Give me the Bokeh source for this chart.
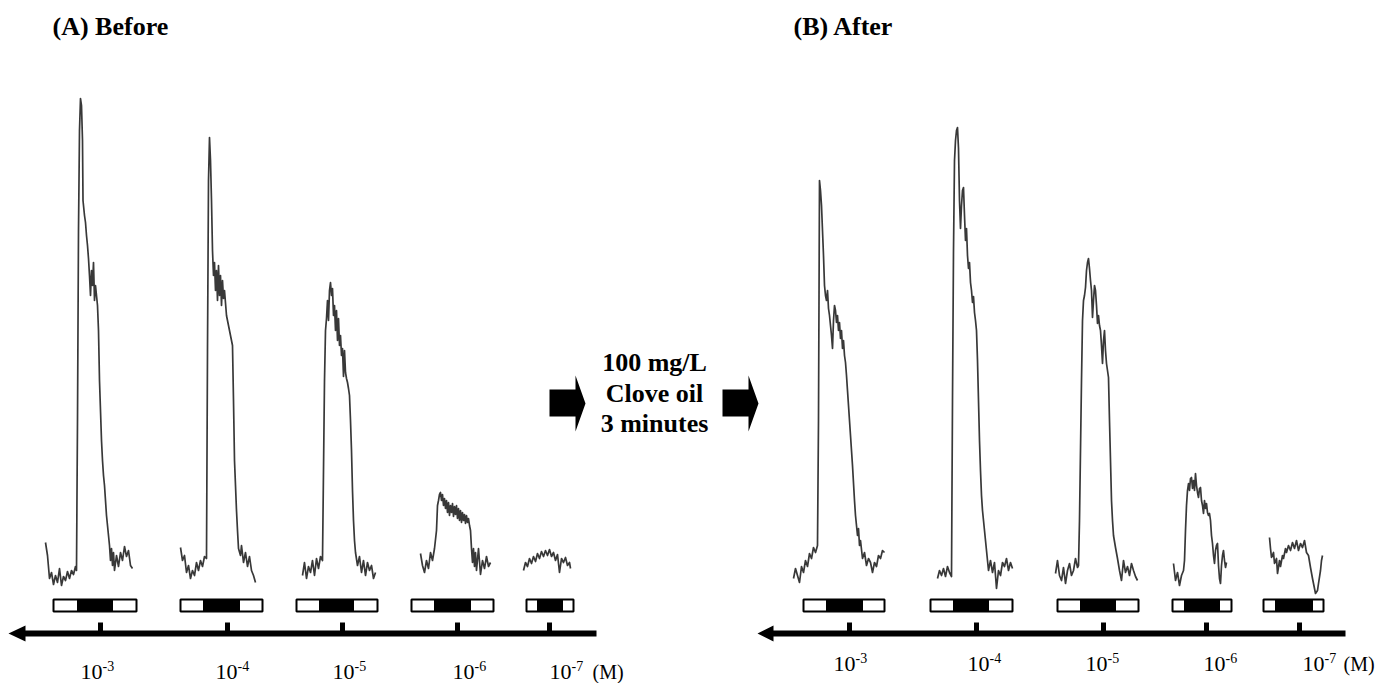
from bokeh.plotting import figure
from bokeh.models import Range1d
from bokeh.core.properties import value
from bokeh.embed import file_html
from bokeh.resources import INLINE

# ------------------------------------------------------------------
# DATA : recorded responses (time offset, response amplitude)
# ------------------------------------------------------------------
# Panel A (before clove oil)
A1_t = [0, 2, 4, 6, 8, 10, 12, 14, 16, 18, 20, 22, 24, 26, 28, 30, 31, 32, 33, 34, 35, 36, 37, 37.5, 38, 39, 40, 41, 42, 43, 44, 45, 46, 47, 48, 49, 50, 51, 52, 53, 54, 55, 56, 57, 58, 59, 60, 61, 62, 63, 64, 65, 66, 67, 68, 69, 71, 73, 75, 77, 79, 81, 83, 85, 87]
A1_r = [58, 45, 22, 28, 16, 25, 18, 32, 15, 24, 20, 29, 22, 30, 26, 34, 30, 180, 370, 470, 502, 495, 460, 400, 395, 385, 378, 365, 355, 342, 325, 305, 330, 315, 338, 300, 315, 305, 295, 270, 220, 190, 160, 140, 125, 115, 100, 85, 75, 65, 55, 40, 52, 35, 48, 30, 45, 34, 48, 40, 54, 44, 50, 35, 32]

A2_t = [0, 2, 4, 6, 8, 10, 12, 14, 16, 18, 20, 22, 24, 26, 27, 28, 29, 30, 31, 32, 33, 34, 35, 36, 37, 38, 39, 40, 41, 42, 43, 44, 46, 48, 50, 52, 53, 54, 55, 56, 57, 58, 60, 61, 63, 65, 67, 69, 71, 73, 75]
A2_r = [53, 40, 45, 28, 35, 22, 30, 25, 38, 30, 40, 34, 44, 42, 250, 420, 463, 440, 400, 350, 325, 338, 310, 330, 300, 335, 305, 325, 295, 320, 302, 310, 285, 275, 265, 255, 200, 140, 115, 90, 70, 52, 45, 55, 38, 48, 34, 44, 30, 25, 18]

A3_t = [0, 2, 4, 6, 8, 10, 12, 14, 16, 18, 20, 21, 22, 23, 24, 25, 26, 27, 28, 29, 30, 31, 32, 33, 34, 35, 36, 37, 38, 39, 40, 41, 42, 43, 44, 45, 46, 47, 48, 49, 50, 51, 52, 53, 55, 57, 59, 61, 63, 65, 67, 69, 71, 73]
A3_r = [25, 38, 22, 34, 28, 40, 25, 42, 32, 44, 40, 130, 220, 270, 282, 300, 280, 310, 318, 305, 312, 285, 295, 270, 290, 260, 282, 255, 265, 245, 252, 224, 250, 228, 222, 218, 212, 205, 180, 150, 110, 80, 60, 48, 35, 44, 28, 40, 25, 38, 30, 35, 22, 28]

A4_t = [0, 2, 4, 6, 8, 10, 12, 14, 16, 17, 18, 19, 20, 21, 22, 23, 24, 25, 26, 27, 28, 29, 30, 31, 32, 33, 34, 35, 36, 37, 38, 39, 40, 41, 42, 43, 44, 45, 46, 47, 48, 49, 50, 51, 52, 53, 54, 55, 56, 58, 60, 62, 64, 66, 68, 70]
A4_r = [47, 35, 28, 40, 32, 48, 40, 52, 70, 95, 100, 106, 108, 100, 106, 95, 102, 92, 100, 88, 98, 85, 95, 88, 97, 84, 94, 86, 95, 82, 92, 80, 90, 78, 88, 80, 86, 77, 85, 78, 82, 75, 70, 52, 38, 52, 34, 48, 30, 52, 26, 40, 32, 44, 34, 38]

A5_t = [0, 2, 4, 6, 8, 10, 12, 14, 16, 18, 20, 22, 24, 26, 28, 30, 32, 34, 36, 38, 40, 42, 44, 46, 47]
A5_r = [30, 38, 34, 42, 37, 44, 39, 47, 42, 49, 44, 50, 45, 51, 44, 48, 40, 46, 28, 42, 38, 43, 35, 38, 32]

# Panel B (after clove oil)
B1_t = [0, 2, 4, 6, 8, 10, 12, 14, 16, 18, 20, 22, 24, 25, 26, 27, 28, 29, 30, 31, 32, 33, 34, 35, 36, 37, 38, 39, 40, 41, 42, 43, 44, 45, 46, 47, 48, 49, 50, 51, 52, 53, 54, 55, 57, 59, 61, 62, 63, 64, 65, 66, 67, 69, 71, 73, 75, 77, 79, 81, 83, 85, 87, 89, 91]
B1_r = [22, 32, 25, 18, 34, 28, 40, 34, 47, 42, 53, 48, 55, 180, 420, 410, 395, 370, 345, 315, 305, 300, 310, 292, 285, 275, 265, 252, 280, 295, 290, 278, 285, 270, 278, 262, 270, 252, 260, 245, 238, 225, 210, 195, 165, 135, 100, 85, 75, 65, 72, 55, 60, 42, 48, 35, 42, 38, 28, 38, 34, 45, 42, 50, 48]

B2_t = [0, 2, 4, 6, 8, 10, 12, 14, 15, 16, 17, 18, 19, 20, 21, 22, 23, 24, 25, 26, 27, 28, 29, 30, 31, 32, 33, 34, 35, 36, 37, 38, 39, 40, 41, 42, 43, 44, 45, 47, 49, 51, 53, 55, 57, 59, 61, 63, 65, 67, 69, 71, 73, 75]
B2_r = [22, 30, 25, 32, 24, 34, 28, 24, 200, 350, 440, 460, 470, 473, 452, 400, 372, 395, 410, 413, 385, 360, 372, 345, 332, 338, 318, 310, 298, 304, 288, 280, 270, 240, 200, 160, 130, 105, 90, 70, 50, 30, 40, 28, 38, 12, 30, 25, 38, 34, 42, 30, 38, 32]

B3_t = [0, 2, 4, 6, 8, 10, 12, 14, 16, 18, 20, 22, 23, 24, 25, 26, 27, 28, 29, 30, 31, 32, 33, 34, 35, 36, 37, 38, 39, 40, 41, 42, 43, 44, 45, 46, 47, 48, 49, 50, 51, 52, 53, 54, 55, 56, 57, 58, 60, 62, 64, 66, 68, 70, 72, 74, 76, 78, 80, 82]
B3_r = [27, 40, 25, 20, 33, 17, 30, 37, 25, 30, 42, 33, 35, 80, 150, 220, 280, 300, 305, 313, 330, 338, 342, 332, 320, 310, 283, 300, 315, 310, 295, 277, 285, 275, 270, 255, 237, 260, 270, 250, 237, 230, 223, 180, 140, 100, 80, 65, 53, 42, 30, 20, 40, 28, 34, 25, 37, 30, 24, 20]

B4_t = [0, 2, 4, 6, 8, 10, 11, 12, 13, 14, 15, 16, 17, 18, 19, 20, 21, 22, 23, 24, 25, 26, 27, 28, 29, 30, 31, 32, 33, 34, 35, 36, 37, 38, 39, 40, 41, 42, 43, 44, 45, 46, 47, 48, 49, 50, 51, 52, 53]
B4_r = [37, 20, 28, 15, 25, 30, 40, 70, 95, 110, 117, 110, 122, 123, 112, 120, 110, 127, 115, 108, 103, 112, 113, 100, 95, 87, 100, 92, 97, 88, 85, 87, 80, 65, 57, 45, 37, 50, 55, 57, 35, 22, 17, 35, 45, 50, 40, 33, 38]

B5_t = [0, 1, 2, 4, 5, 7, 8, 10, 11, 13, 14, 16, 17, 19, 21, 23, 25, 27, 29, 31, 33, 35, 37, 39, 41, 43, 44, 46, 48, 49, 51, 52, 53]
B5_r = [63, 52, 43, 48, 37, 42, 27, 40, 34, 45, 42, 52, 48, 55, 50, 58, 52, 60, 50, 57, 53, 60, 48, 45, 33, 22, 17, 7, 10, 17, 30, 40, 45]

CONC_BASE = "10"
CONC_EXP = ["-3", "-4", "-5", "-6", "-7"]
UNIT = "(M)"
TITLE_A = "(A) Before"
TITLE_B = "(B) After"
TREATMENT = ["100 mg/L", "Clove oil", "3 minutes"]

TRACES_A = [(A1_t, A1_r), (A2_t, A2_r), (A3_t, A3_r), (A4_t, A4_r), (A5_t, A5_r)]
TRACES_B = [(B1_t, B1_r), (B2_t, B2_r), (B3_t, B3_r), (B4_t, B4_r), (B5_t, B5_r)]

# ------------------------------------------------------------------
# LAYOUT (positions in the drawing frame)
# ------------------------------------------------------------------
W, H = 1381, 683
BASE = 600  # frame level for zero response
TXT_SHIFT = 6  # renderer places alphabetic baselines a little low

PANELS = [
    dict(traces=TRACES_A,
         starts=[45, 180, 302, 420, 523],
         bars=[(53, 77, 112, 136), (180, 203, 239, 262), (296, 319, 353, 377),
               (411, 434, 470, 493), (526, 537, 562, 573)],
         ticks=[100, 227, 342, 457, 549],
         lab_x=[80, 215, 332, 452, 549],
         lab_base=677, unit_x=592,
         axis=(8, 25, 596),
         title=TITLE_A, title_x=52),
    dict(traces=TRACES_B,
         starts=[793, 937, 1055, 1173, 1269],
         bars=[(803, 826, 862, 884), (930, 953, 988, 1012), (1057, 1080, 1115, 1138),
               (1172, 1184, 1219, 1231), (1263, 1275, 1312, 1323)],
         ticks=[849, 976, 1103, 1206, 1299],
         lab_x=[833, 967, 1085, 1203, 1302],
         lab_base=669, unit_x=1343,
         axis=(757, 773, 1345),
         title=TITLE_B, title_x=793),
]

SERIF = value("Liberation Serif")

p = figure(width=W, height=H, x_range=Range1d(0, W), y_range=Range1d(BASE - H, BASE),
           output_backend="svg", toolbar_location=None, min_border=0,
           x_axis_type=None, y_axis_type=None)
p.grid.visible = False
p.outline_line_color = None
p.background_fill_color = "white"
p.border_fill_color = "white"


def fy(py):
    """frame y from page row"""
    return BASE - py


def ty(py):
    """frame y for a text baseline at page row py"""
    return BASE - (py - TXT_SHIFT)


for pan in PANELS:
    # traces
    for (t, r), s in zip(pan["traces"], pan["starts"]):
        p.line([s + v for v in t], r, line_color="#383838", line_width=1.7, line_join="round")
    # stimulus bars
    L = [b[0] for b in pan["bars"]]
    BL = [b[1] for b in pan["bars"]]
    BR = [b[2] for b in pan["bars"]]
    R = [b[3] for b in pan["bars"]]
    p.quad(left=L, right=R, top=fy(599), bottom=fy(611), fill_color="white",
           line_color="black", line_width=2)
    p.quad(left=BL, right=BR, top=fy(599), bottom=fy(611), fill_color="black",
           line_color="black", line_width=1)
    # axis arrow
    tip, hb, end = pan["axis"]
    p.quad(left=[hb - 1], right=[end], top=fy(630), bottom=fy(636), fill_color="black", line_color=None)
    p.patch([tip, hb, hb], [fy(633), fy(625), fy(641)], fill_color="black", line_color=None)
    # ticks
    p.quad(left=[x - 2.5 for x in pan["ticks"]], right=[x + 2.5 for x in pan["ticks"]],
           top=fy(622), bottom=fy(631), fill_color="black", line_color=None)
    # tick labels
    lb = pan["lab_base"]
    p.text(x=pan["lab_x"], y=[ty(lb)] * 5, text=[CONC_BASE] * 5, text_font=SERIF,
           text_font_size="22px", text_baseline="alphabetic", text_align="left", text_color="black")
    p.text(x=[x + 22 for x in pan["lab_x"]], y=[ty(lb - 6)] * 5, text=CONC_EXP, text_font=SERIF,
           text_font_size="14px", text_baseline="alphabetic", text_align="left", text_color="black")
    p.text(x=[pan["unit_x"]], y=[ty(lb)], text=[UNIT], text_font=SERIF,
           text_font_size="20px", text_baseline="alphabetic", text_align="left", text_color="black")
    # title
    p.text(x=[pan["title_x"]], y=[ty(32)], text=[pan["title"]], text_font=SERIF,
           text_font_size="26px", text_font_style="bold", text_baseline="alphabetic",
           text_align="left", text_color="black")

# treatment arrows and text
for x0 in (549, 722):
    xs = [x0, x0 + 26, x0 + 26, x0 + 36, x0 + 26, x0 + 26, x0]
    ys = [fy(389), fy(389), fy(375), fy(403), fy(431), fy(416), fy(416)]
    p.patch(xs, ys, fill_color="black", line_color=None)

p.text(x=[654] * 3, y=[ty(368), ty(399), ty(429)], text=TREATMENT, text_font=SERIF,
       text_font_size="26px", text_font_style="bold", text_baseline="alphabetic",
       text_align="center", text_color="black")

open("out.html", "w").write(file_html(p, INLINE))
